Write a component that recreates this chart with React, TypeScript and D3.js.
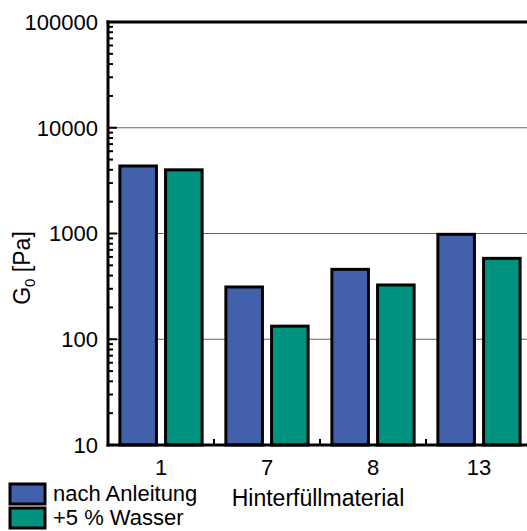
import React from 'react';
import * as d3 from 'd3';

const materials = ['1', '7', '8', '13'];
const seriesNames = ['nach Anleitung', '+5 % Wasser'];
const nachAnleitung = [4350, 312, 458, 982];
const plusWasser = [4000, 133, 326, 582];
const yTicks = [10, 100, 1000, 10000, 100000];

const colors = ['#4361AA', '#00917F'];

const App: React.FC = () => {
  const width = 527;
  const height = 531;
  const left = 108;
  const right = 532;
  const top = 22;
  const bottom = 445;

  const x = d3.scaleBand<string>().domain(materials).range([left, right]).padding(0);
  // two bars per group, with gap between and room on both sides
  const inner = d3.scaleBand<number>().domain([0, 1]).range([0, x.bandwidth()]).paddingInner(0.2).paddingOuter(0.26);
  const y = d3.scaleLog().domain([10, 100000]).range([bottom, top]);

  const minor: number[] = [];
  for (let d = 10; d < 100000; d *= 10) {
    for (let k = 2; k <= 9; k++) minor.push(d * k);
  }

  const series = [nachAnleitung, plusWasser];
  const font = 'Arial, "Liberation Sans", sans-serif';

  return (
    <svg width={width} height={height} style={{ position: 'absolute', left: 0, top: 0 }} fontFamily={font}>
      {/* gridlines */}
      {yTicks.slice(1, -1).map(t => (
        <line key={t} x1={left} x2={width} y1={y(t)} y2={y(t)} stroke="#666" strokeWidth={1} />
      ))}
      {/* bars */}
      {series.map((vals, si) =>
        vals.map((v, i) => {
          const bx = (x(materials[i]) ?? 0) + (inner(si) ?? 0);
          return (
            <rect key={`${si}-${i}`} x={bx} y={y(v)} width={inner.bandwidth()} height={bottom - y(v)}
              fill={colors[si]} stroke="#000" strokeWidth={3} />
          );
        })
      )}
      {/* y ticks */}
      {minor.map(t => (
        <line key={`m${t}`} x1={left} x2={left + 5} y1={y(t)} y2={y(t)} stroke="#000" strokeWidth={2} />
      ))}
      {yTicks.map(t => (
        <g key={t}>
          <line x1={left} x2={left + 9} y1={y(t)} y2={y(t)} stroke="#000" strokeWidth={2} />
          <text x={98} y={y(t)} dy="0.36em" textAnchor="end" fontSize={22}>{t}</text>
        </g>
      ))}
      {/* x group ticks */}
      {materials.slice(1).map(m => (
        <line key={`xt${m}`} x1={x(m)} x2={x(m)} y1={bottom} y2={bottom - 6} stroke="#000" strokeWidth={2} />
      ))}
      {materials.map(m => (
        <text key={`xl${m}`} x={(x(m) ?? 0) + x.bandwidth() / 2} y={475} textAnchor="middle" fontSize={22}>{m}</text>
      ))}
      {/* axes frame */}
      <line x1={left} x2={left} y1={top - 1.5} y2={bottom + 1.5} stroke="#000" strokeWidth={3} />
      <line x1={left - 1.5} x2={width} y1={bottom} y2={bottom} stroke="#000" strokeWidth={3} />
      <line x1={left - 1.5} x2={width} y1={top} y2={top} stroke="#000" strokeWidth={3} />
      {/* axis titles */}
      <text x={318} y={506} textAnchor="middle" fontSize={23}>Hinterfüllmaterial</text>
      <text transform="translate(30,268) rotate(-90)" textAnchor="middle" fontSize={23}>
        G<tspan fontSize={15} dy={5}>0</tspan><tspan dy={-5}> [Pa]</tspan>
      </text>
      {/* legend */}
      {seriesNames.map((s, i) => (
        <g key={s} transform={`translate(10, ${484 + i * 24})`}>
          <rect x={0} y={0} width={35} height={20} fill={colors[i]} stroke="#000" strokeWidth={3} />
          <text x={43} y={17} fontSize={22}>{s}</text>
        </g>
      ))}
    </svg>
  );
};

export default App;
